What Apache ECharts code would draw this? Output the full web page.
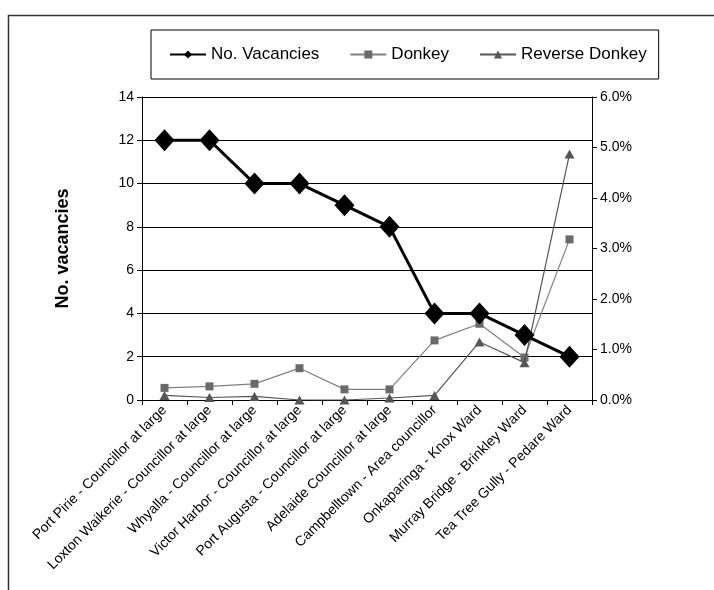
<!DOCTYPE html>
<html>
<head>
<meta charset="utf-8">
<script src="https://cdn.jsdelivr.net/npm/echarts@6/dist/echarts.min.js"></script>
<style>
html,body{margin:0;padding:0;background:#fff;}
#c{width:714px;height:590px;}
</style>
</head>
<body>
<div id="c"></div>
<script>
var categories = [
  "Port Pirie - Councillor at large",
  "Loxton Waikerie - Councillor at large",
  "Whyalla - Councillor at large",
  "Victor Harbor - Councillor at large",
  "Port Augusta - Councillor at large",
  "Adelaide Councillor at large",
  "Campbelltown - Area councillor",
  "Onkaparinga - Knox Ward",
  "Murray Bridge - Brinkley Ward",
  "Tea Tree Gully - Pedare Ward"
];
var vacancies = [12, 12, 10, 10, 9, 8, 4, 4, 3, 2];
var donkey = [0.24, 0.27, 0.32, 0.63, 0.21, 0.21, 1.18, 1.51, 0.84, 3.18];
var reverseDonkey = [0.09, 0.05, 0.07, 0.0, 0.0, 0.04, 0.09, 1.15, 0.74, 4.87];
var leftTicks = {min: 0, max: 14, interval: 2};
var rightTicks = {min: 0, max: 6, interval: 1};

var font = "Liberation Sans, Arial, sans-serif";
var chart = echarts.init(document.getElementById('c'));
chart.setOption({
  animation: false,
  backgroundColor: '#fff',
  graphic: [{
    type: 'rect',
    shape: {x: 8.5, y: 15.5, width: 760, height: 640},
    style: {fill: 'none', stroke: '#333', lineWidth: 1.5},
    silent: true
  }],
  legend: {
    left: 151, top: 30,
    padding: [16, 12, 16, 18],
    borderColor: '#000', borderWidth: 1,
    itemWidth: 36, itemHeight: 10, itemGap: 30,
    textStyle: {fontFamily: font, fontSize: 17, color: '#000'},
    data: ['No. Vacancies', 'Donkey', 'Reverse Donkey']
  },
  grid: {left: 142, top: 97, right: 122, bottom: 190, containLabel: false},
  xAxis: {
    type: 'category',
    data: categories,
    boundaryGap: true,
    axisLine: {lineStyle: {color: '#000', width: 1}},
    axisTick: {show: true, length: 5, lineStyle: {color: '#000'}},
    axisLabel: {rotate: 45, fontFamily: font, fontSize: 14, color: '#000', margin: 8, interval: 0}
  },
  yAxis: [{
    type: 'value',
    min: leftTicks.min, max: leftTicks.max, interval: leftTicks.interval,
    name: 'No. vacancies',
    nameLocation: 'middle',
    nameGap: 70,
    nameTextStyle: {fontFamily: font, fontSize: 18, fontWeight: 'bold', color: '#000'},
    axisLine: {show: true, lineStyle: {color: '#000'}},
    axisTick: {show: true, length: 5, lineStyle: {color: '#000'}},
    axisLabel: {fontFamily: font, fontSize: 14, color: '#000', margin: 8},
    splitLine: {show: true, lineStyle: {color: '#000', width: 1}}
  }, {
    type: 'value',
    position: 'right',
    min: rightTicks.min, max: rightTicks.max, interval: rightTicks.interval,
    axisLine: {show: true, lineStyle: {color: '#000'}},
    axisTick: {show: true, length: 5, inside: false, lineStyle: {color: '#000'}},
    axisLabel: {fontFamily: font, fontSize: 14, color: '#000', margin: 8,
      formatter: function (v) { return v.toFixed(1) + '%'; }},
    splitLine: {show: false}
  }],
  series: [{
    name: 'No. Vacancies',
    type: 'line',
    data: vacancies,
    yAxisIndex: 0,
    symbol: 'diamond',
    symbolSize: [20, 22],
    itemStyle: {color: '#000'},
    lineStyle: {color: '#000', width: 3},
    z: 5
  }, {
    name: 'Donkey',
    type: 'line',
    data: donkey,
    yAxisIndex: 1,
    symbol: 'rect',
    symbolSize: 8,
    itemStyle: {color: '#6a6a6a'},
    lineStyle: {color: '#808080', width: 1.2},
    z: 3
  }, {
    name: 'Reverse Donkey',
    type: 'line',
    data: reverseDonkey,
    yAxisIndex: 1,
    symbol: 'triangle',
    symbolSize: [10, 9],
    itemStyle: {color: '#555'},
    lineStyle: {color: '#555', width: 1.2},
    z: 4
  }]
});
</script>
</body>
</html>
